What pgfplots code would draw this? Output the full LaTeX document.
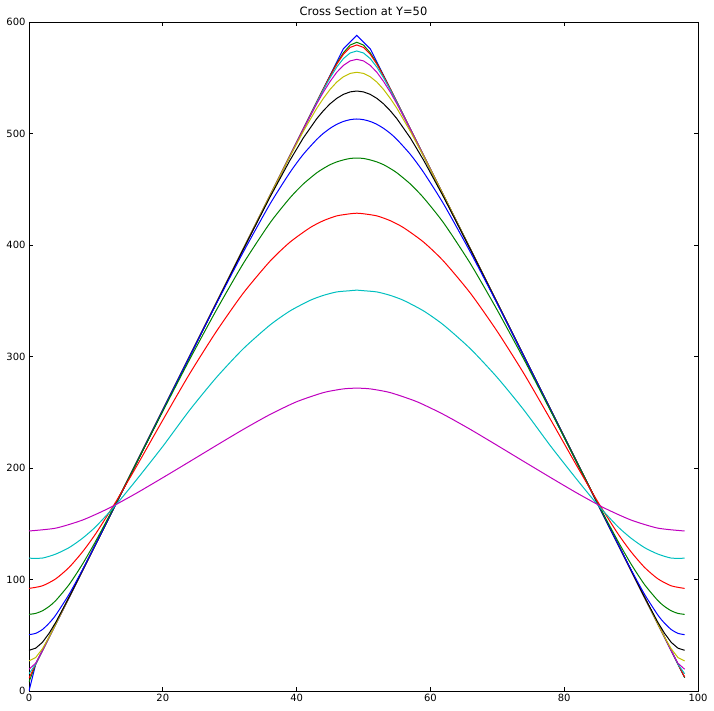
\documentclass[border=0pt]{standalone}
\usepackage{pgfplots}
\pgfplotsset{compat=1.18}
\usepackage{fontspec}
\setmainfont{DejaVu Sans}
\definecolor{mb}{rgb}{0,0,1}
\definecolor{mg}{rgb}{0,0.5,0}
\definecolor{mr}{rgb}{1,0,0}
\definecolor{mc}{rgb}{0,0.75,0.75}
\definecolor{mm}{rgb}{0.75,0,0.75}
\definecolor{my}{rgb}{0.75,0.75,0}
\definecolor{mk}{rgb}{0,0,0}
\begin{document}
\begin{tikzpicture}
\begin{axis}[
  scale only axis, width=669bp, height=669bp,
  xmin=0, xmax=100, ymin=0, ymax=600,
  xtick={0,20,40,60,80,100}, ytick={0,100,200,300,400,500,600},
  tick align=inside, major tick length=4bp,
  tick style={black, line width=0.8bp},
  axis line style={line width=0.9bp},
  /pgf/number format/assume math mode=true,
  ticklabel style={font=\fontsize{10}{12}\selectfont},
  title={Cross Section at Y=50},
  title style={font=\fontsize{11.5}{13}\selectfont, yshift=-3bp},
  every axis plot/.append style={line width=1bp},
  clip=true,
]
\addplot[mb] coordinates {(0,0)(1,24)(47,576)(48,582)(49,588)(50,582)(51,576)(97,24)(98,12)};
\addplot[mg] coordinates {(0,8)(1,24)(44,540)(45,551.7)(46,562.9)(47,572.4)(48,579.3)(49,581.8)(50,579.3)(51,572.4)(52,562.9)(53,551.7)(54,540)(97,24)(98,12)};
\addplot[mr] coordinates {(0,11.5)(1,24)(44,540)(45,551.4)(46,562.1)(47,571.1)(48,577.2)(49,579.4)(50,577.2)(51,571.1)(52,562.1)(53,551.4)(54,540)(97,24)(98,12.5)};
\addplot[mc] coordinates {(0,15.5)(1,24)(43,527.7)(44,539.1)(45,549.9)(46,559.5)(47,567.2)(48,572.2)(49,574)(50,572.2)(51,567.2)(52,559.5)(53,549.9)(54,539.1)(55,527.7)(97,24)(98,15.5)};
\addplot[mm] coordinates {(0,19.5)(1,24.9)(2,36)(41,503.7)(43,526.5)(44,537.1)(45,546.6)(46,554.9)(47,561.1)(48,565.1)(49,566.5)(50,565.1)(51,561.1)(52,554.9)(53,546.6)(54,537.1)(55,526.5)(57,503.7)(96,36)(97,24.9)(98,19.5)};
\addplot[my] coordinates {(0,27)(1,30)(2,37.8)(3,48.4)(4,60)(36,444)(39,479.3)(41,501.9)(43,522.5)(44,531.5)(45,539.5)(46,546.1)(47,550.9)(48,553.9)(49,554.9)(50,553.9)(51,550.9)(52,546.1)(53,539.5)(54,531.5)(55,522.5)(57,501.9)(59,479.3)(62,444)(94,60)(95,48.4)(96,37.8)(97,30)(98,27)};
\addplot[mk] coordinates {(0,36.5)(1,38.4)(2,43.6)(3,51.7)(4,61.6)(6,84.2)(8,108)(32,395.8)(36,442.7)(39,475.9)(41,496)(43,513.2)(44,520.4)(45,526.6)(46,531.5)(47,535.1)(48,537.3)(49,538.1)(50,537.3)(51,535.1)(52,531.5)(53,526.6)(54,520.4)(55,513.2)(57,496)(59,475.9)(62,442.7)(66,395.8)(90,108)(92,84.2)(94,61.6)(95,51.7)(96,43.6)(97,38.4)(98,36.5)};
\addplot[mb, smooth, tension=0.4] coordinates {(0,50.5)(1,51.7)(2,55.1)(3,60.8)(4,68.1)(6,86.8)(8,108.8)(10,132.2)(13,168)(24,299.8)(28,347.2)(32,393.3)(36,436.5)(39,465)(41,481.3)(43,494.6)(44,500.1)(45,504.6)(46,508.2)(47,510.8)(48,512.4)(49,513)(50,512.4)(51,510.8)(52,508.2)(53,504.6)(54,500.1)(55,494.6)(57,481.3)(59,465)(62,436.5)(66,393.3)(70,347.2)(74,299.8)(85,168)(88,132.2)(90,108.8)(92,86.8)(94,68.1)(95,60.8)(96,55.1)(97,51.7)(98,50.5)};
\addplot[mg, smooth, tension=0.4] coordinates {(0,68.7)(1,69.6)(2,71.9)(3,75.8)(4,81.1)(6,95.5)(8,113.8)(10,134.7)(13,168.5)(16,203.6)(20,250.8)(24,297.2)(28,341.5)(32,383.1)(36,419.6)(39,442.2)(41,454.7)(43,464.7)(44,468.6)(45,472)(46,474.5)(47,476.3)(48,477.6)(49,478)(50,477.6)(51,476.3)(52,474.5)(53,472)(54,468.6)(55,464.7)(57,454.7)(59,442.2)(62,419.6)(66,383.1)(70,341.5)(74,297.2)(78,250.8)(82,203.6)(85,168.5)(88,134.7)(90,113.8)(92,95.5)(94,81.1)(95,75.8)(96,71.9)(97,69.6)(98,68.7)};
\addplot[mr, smooth, tension=0.4] coordinates {(0,92)(2,94.3)(4,100.6)(6,110.9)(8,124.8)(10,141.3)(13,169.9)(16,200.7)(20,243)(24,284.4)(28,322.4)(32,356.6)(36,385.3)(39,402.5)(42,415.5)(44,421.8)(46,426.1)(48,428)(49,428.5)(50,428)(52,426.1)(54,421.8)(56,415.5)(59,402.5)(62,385.3)(66,356.6)(70,322.4)(74,284.4)(78,243)(82,200.7)(85,169.9)(88,141.3)(90,124.8)(92,110.9)(94,100.6)(96,94.3)(98,92)};
\addplot[mc, smooth, tension=0.4] coordinates {(0,119.1)(2,119.2)(4,122.8)(6,128.6)(8,137)(10,147.5)(13,167)(16,188.9)(20,219.4)(24,251.8)(28,281.1)(32,306.8)(36,328.1)(39,340.8)(42,350.3)(44,354.8)(46,357.9)(48,359)(49,359.5)(50,359)(52,357.9)(54,354.8)(56,350.3)(59,340.8)(62,328.1)(66,306.8)(70,281.1)(74,251.8)(78,219.4)(82,188.9)(85,167)(88,147.5)(90,137)(92,128.6)(94,122.8)(96,119.2)(98,119.1)};
\addplot[mm, smooth, tension=0.4] coordinates {(0,143.5)(4,146.05)(8,153.3)(12,164.1)(16,177.2)(20,191.3)(24,205.7)(28,220.2)(32,234.5)(36,247.9)(40,259.4)(44,267.6)(47,270.95)(49,271.6)(51,270.95)(54,267.6)(58,259.4)(62,247.9)(66,234.5)(70,220.2)(74,205.7)(78,191.3)(82,177.2)(86,164.1)(90,153.3)(94,146.05)(98,143.5)};
\end{axis}
\path ([xshift=-29bp,yshift=-20bp]current axis.south west) rectangle ([xshift=16bp,yshift=22bp]current axis.north east);
\end{tikzpicture}
\end{document}
